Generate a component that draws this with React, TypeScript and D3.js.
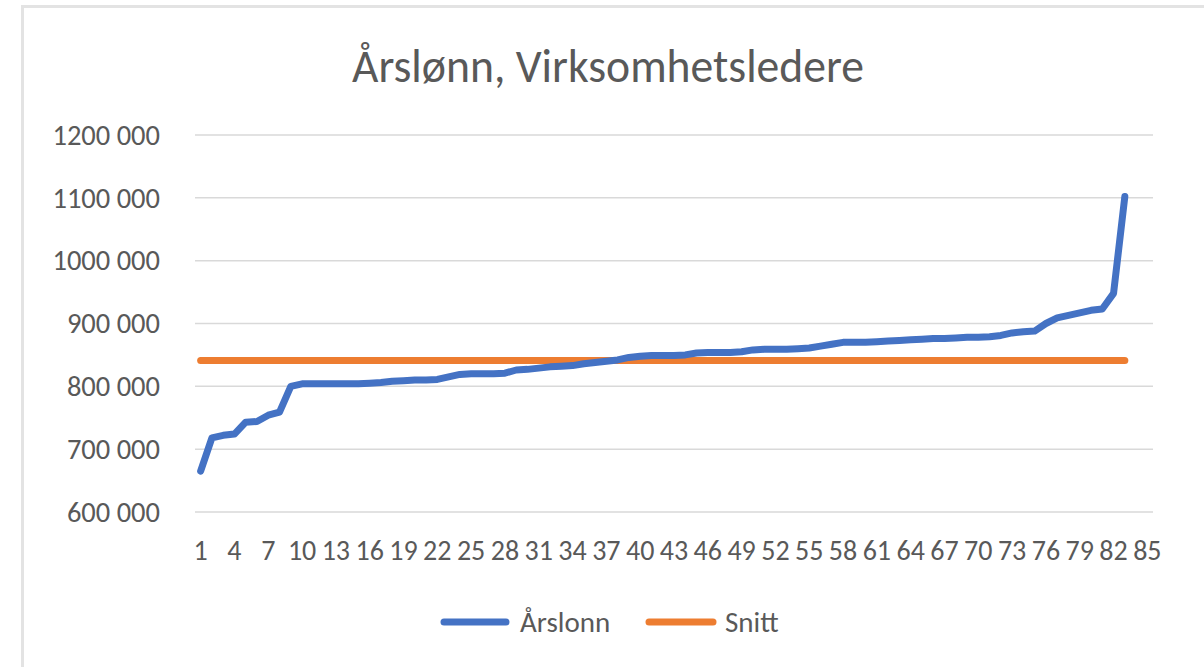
import React from "react";
import * as d3 from "d3";

const categories: number[] = d3.range(1, 86);
const arslonn: number[] = [
  665000, 718000, 722000, 724000, 743000, 744000, 754000, 759000, 800000, 804000,
  804000, 804000, 804000, 804000, 804000, 805000, 806000, 808000, 809000,
  810000, 810000, 811000, 815000, 819000, 820000, 820000, 820000, 821000, 826000,
  827000, 829000, 831000, 832000, 833000, 836000, 838000, 840000, 842000, 846000, 848000,
  849000, 849000, 849000, 850000, 853000, 854000, 854000, 854000, 855000, 858000,
  859000, 859000, 859000, 860000, 861000, 864000, 867000, 870000, 870000, 870000,
  871000, 872000, 873000, 874000, 875000, 876000, 876000, 877000, 878000, 878000,
  879000, 881000, 885000, 887000, 888000, 900000, 909000, 913000, 917000, 921000,
  923000, 948000, 1102000,
];
const snittValue = 841000;
const snitt: number[] = arslonn.map(() => snittValue);
const yTicks: number[] = [600000, 700000, 800000, 900000, 1000000, 1100000, 1200000];
const title = "Årslønn, Virksomhetsledere";
const seriesNames = ["Årslonn", "Snitt"];

const W = 1204;
const H = 667;
const FONT = "Carlito, Calibri, 'Open Sans', sans-serif";
const TEXT = "#595959";
const BLUE = "#4472C4";
const ORANGE = "#ED7D31";

export default function App() {
  const x = d3.scaleBand<number>().domain(categories).range([195, 1153]).padding(0);
  const cx = (c: number) => (x(c) as number) + x.bandwidth() / 2;
  const y = d3.scaleLinear().domain([600000, 1200000]).range([512, 135]);
  const fmt = (v: number) => {
    const s = String(v);
    return s.length > 3 ? s.slice(0, s.length - 3) + " " + s.slice(-3) : s;
  };
  const line = d3
    .line<number>()
    .x((_, i) => cx(categories[i]))
    .y((d) => y(d));

  return (
    <div style={{ position: "absolute", left: 0, top: 0 }}>
      <svg width={W} height={H} style={{ display: "block", background: "#fff" }}>
        <rect x={0} y={0} width={W} height={H} fill="#fff" />
        <path d={`M22.5,${H} V6.5 H${W}`} fill="none" stroke="#e3e3e3" strokeWidth={3} />
        <text
          x={608}
          y={82}
          textAnchor="middle"
          fontFamily={FONT}
          fontSize={48}
          fill={TEXT}
          textLength={512}
          lengthAdjust="spacingAndGlyphs"
        >
          {title}
        </text>
        {yTicks.map((t) => (
          <g key={t}>
            <line x1={195} x2={1153} y1={y(t)} y2={y(t)} stroke="#d9d9d9" strokeWidth={1.5} />
            <text
              x={160}
              y={y(t)}
              dy="0.34em"
              textAnchor="end"
              fontFamily={FONT}
              fontSize={28.5}
              fill={TEXT}
            >
              {fmt(t)}
            </text>
          </g>
        ))}
        {categories
          .filter((c) => (c - 1) % 3 === 0)
          .map((c) => (
            <text
              key={c}
              x={cx(c)}
              y={560}
              textAnchor="middle"
              fontFamily={FONT}
              fontSize={28}
              fill={TEXT}
            >
              {c}
            </text>
          ))}
        <path
          d={line(snitt) || ""}
          fill="none"
          stroke={ORANGE}
          strokeWidth={7}
          strokeLinecap="round"
          strokeLinejoin="round"
        />
        <path
          d={line(arslonn) || ""}
          fill="none"
          stroke={BLUE}
          strokeWidth={7}
          strokeLinecap="round"
          strokeLinejoin="round"
        />
        <g>
          <line x1={444} x2={506} y1={622} y2={622} stroke={BLUE} strokeWidth={7} strokeLinecap="round" />
          <text x={520} y={632} fontFamily={FONT} fontSize={29} fill={TEXT}>
            {seriesNames[0]}
          </text>
          <line x1={649} x2={713} y1={622} y2={622} stroke={ORANGE} strokeWidth={7} strokeLinecap="round" />
          <text x={725} y={632} fontFamily={FONT} fontSize={29} fill={TEXT}>
            {seriesNames[1]}
          </text>
        </g>
      </svg>
    </div>
  );
}
